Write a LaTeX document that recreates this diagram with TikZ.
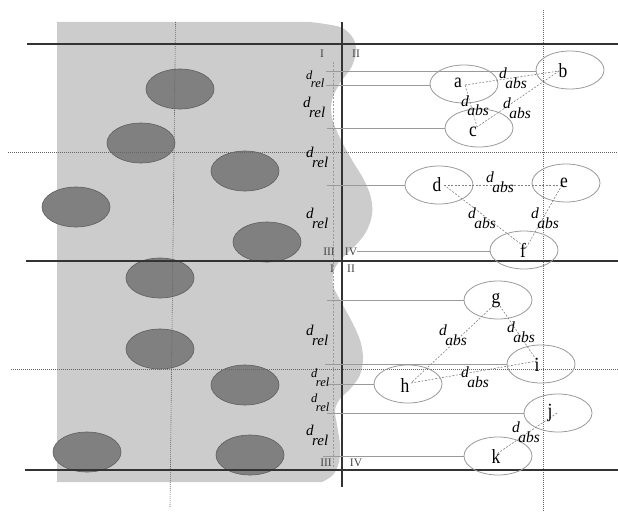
\documentclass[tikz,border=0pt]{standalone}
\usepackage{fontspec}
\setmainfont{Liberation Serif}
\usetikzlibrary{shapes.geometric}
\definecolor{regiongray}{HTML}{CCCCCC}
\definecolor{blobgray}{HTML}{808080}
\definecolor{blobedge}{HTML}{5E5E5E}
\definecolor{linegray}{HTML}{9A9A9A}
\definecolor{axisblack}{HTML}{333333}
\definecolor{dotgray}{HTML}{666666}
\definecolor{numgray}{HTML}{444444}
\newcommand\sublab[3]{#1\kern-1.5pt\raisebox{-#3}{#2}}
\newcommand\tallletter[1]{\scalebox{1}[1.15]{#1}}
\begin{document}
\begin{tikzpicture}[x=1pt,y=-1pt,
  blob/.style={ellipse, fill=blobgray, draw=blobedge, line width=0.6pt, minimum width=68pt, minimum height=40pt, inner sep=0},
  obj/.style={ellipse, draw=linegray, line width=0.8pt, minimum width=68pt, minimum height=38pt, inner sep=0},
  letter/.style={font=\fontsize{17.5}{17.5}\selectfont, inner sep=0},
  guide/.style={draw=linegray, line width=0.8pt},
  axisline/.style={draw=axisblack, line width=1.4pt},
  dotline/.style={draw=dotgray, line width=0.6pt, dash pattern=on 0.8pt off 1.2pt},
  dashconn/.style={draw=gray, line width=0.6pt, dash pattern=on 2pt off 1.5pt},
  lightdash/.style={draw=linegray, line width=0.6pt, dash pattern=on 2pt off 1.5pt},
  dabs/.style={font=\fontsize{15.5}{15.5}\selectfont\itshape, inner sep=0, anchor=base west},
  drelbig/.style={font=\fontsize{15}{15}\selectfont\itshape, inner sep=0, anchor=base west},
  drelsmall/.style={font=\fontsize{12.5}{12.5}\selectfont\itshape, inner sep=0, anchor=base west},
  roman/.style={font=\fontsize{11.5}{11.5}\selectfont, text=numgray, inner sep=0}
]
\useasboundingbox (0,0) rectangle (618,511);
% light gray region
\fill[regiongray] (57,482) -- (57,22) -- plot[smooth, tension=0.55] coordinates {(310,22) (340,27) (353,38) (356,52) (351,68) (340,83) (332,100) (332,118) (340,138) (352,160) (364,180) (371,198) (372,215) (366,232) (355,246) (343,257) (334,270) (333,285) (340,300) (351,320) (360,340) (363,358) (360,375) (351,388) (340,399) (335,410) (337,425) (340,445) (339,462) (333,475) (322,482)} -- cycle;
% dark blobs
\node[blob] (s1) at (180,89) {};
\node[blob] (s2) at (141,143) {};
\node[blob] (s3) at (245,171) {};
\node[blob] (s4) at (76,207) {};
\node[blob] (s5) at (267,242) {};
\node[blob] (s6) at (160,278) {};
\node[blob] (s7) at (160,349) {};
\node[blob] (s8) at (245,385) {};
\node[blob] (s9) at (87,452) {};
\node[blob] (s10) at (250,455) {};
% dotted grid lines
\coordinate (dv1t) at (175.5,22); \coordinate (dv1b) at (170,508);
\coordinate (dv2t) at (543,10); \coordinate (dv2b) at (543,511);
\coordinate (dh1l) at (8,152); \coordinate (dh1r) at (618,152);
\coordinate (dh2l) at (11,369); \coordinate (dh2r) at (618,369);
\draw[dotline] (dv1t) -- (dv1b);
\draw[dotline] (dv2t) -- (dv2b);
\draw[dotline] (dh1l) -- (dh1r);
\draw[dotline] (dh2l) -- (dh2r);
% thick axes
\coordinate (h1l) at (27,44); \coordinate (h1r) at (618,44);
\coordinate (h2l) at (26,261); \coordinate (h2r) at (618,261);
\coordinate (h3l) at (25,470); \coordinate (h3r) at (618,470);
\coordinate (vt) at (342,22); \coordinate (vb) at (342,487);
\draw[axisline] (h1l) -- (h1r);
\draw[axisline] (h2l) -- (h2r);
\draw[axisline] (h3l) -- (h3r);
\draw[axisline] (vt) -- (vb);
% thin dashed vertical
\coordinate (tdt) at (333,62); \coordinate (tdb) at (333,467);
\draw[lightdash] (tdt) -- (tdb);
% object ellipses
\node[obj] (ea) at (464,84) {};
\node[obj] (eb) at (570,70) {};
\node[obj] (ec) at (479,128) {};
\node[obj] (ed) at (439,185) {};
\node[obj] (ee) at (566,183) {};
\node[obj] (ef) at (524,250) {};
\node[obj] (eg) at (498,300) {};
\node[obj] (ei) at (541,364) {};
\node[obj] (eh) at (408,384) {};
\node[obj] (ej) at (558,413) {};
\node[obj] (ek) at (498,456) {};
% guide lines
\coordinate (gb) at (326,71);
\coordinate (ga) at (326,85);
\coordinate (gc) at (327,128);
\coordinate (gd) at (327,185);
\coordinate (gf) at (357,251);
\coordinate (gg) at (327,300);
\coordinate (gi) at (325,364);
\coordinate (gh) at (327,384);
\coordinate (gj) at (327,413);
\coordinate (gk) at (323,456);
\draw[guide] (gb) -- (gb -| eb.west);
\draw[guide] (ga) -- (ga -| ea.west);
\draw[guide] (gc) -- (gc -| ec.west);
\draw[guide] (gd) -- (gd -| ed.west);
\draw[guide] (gf) -- (gf -| ef.west);
\draw[guide] (gg) -- (gg -| eg.west);
\draw[guide] (gi) -- (gi -| ei.west);
\draw[guide] (gh) -- (gh -| eh.west);
\draw[guide] (gj) -- (gj -| ej.west);
\draw[guide] (gk) -- (gk -| ek.west);
% dashed distance connectors
\coordinate (pa) at (465,85);
\coordinate (pb) at (559,71);
\coordinate (pc) at (477,127);
\coordinate (pd) at (444,185);
\coordinate (pe) at (562,185);
\coordinate (pf) at (526,248);
\coordinate (pg1) at (493,306);
\coordinate (pg2) at (500,306);
\coordinate (ph) at (411,383);
\coordinate (pi) at (537,361);
\coordinate (pj) at (557,413);
\coordinate (pk) at (498,453);
\draw[dashconn] (pa) -- (pb);
\draw[dashconn] (pa) -- (pc);
\draw[dashconn] (pb) -- (pc);
\draw[dashconn] (pd) -- (pe);
\draw[dashconn] (pd) -- (pf);
\draw[dashconn] (pe) -- (pf);
\draw[dashconn] (pg1) -- (ph);
\draw[dashconn] (pg2) -- (pi);
\draw[dashconn] (ph) -- (pi);
\draw[dashconn] (pj) -- (pk);
% letters
\node[letter] (la) at (458,83) {\tallletter{a}};
\node[letter] (lb) at (563,71) {\tallletter{b}};
\node[letter] (lc) at (473,132) {\tallletter{c}};
\node[letter] (ld) at (437,185) {\tallletter{d}};
\node[letter] (le) at (564,183) {\tallletter{e}};
\node[letter] (lf) at (523,250) {\tallletter{f}};
\node[letter] (lg) at (496,301) {\tallletter{g}};
\node[letter] (li) at (537,365) {\tallletter{i}};
\node[letter] (lh) at (405,386) {\tallletter{h}};
\node[letter] (lj) at (550,413) {\tallletter{j}};
\node[letter] (lk) at (496,457) {\tallletter{k}};
% d_abs labels
\node[dabs] (dab) at (499,78) {\sublab{d}{abs}{10pt}};
\node[dabs] (dac) at (461,106) {\sublab{d}{abs}{9.5pt}};
\node[dabs] (dbc) at (503,108) {\sublab{d}{abs}{10pt}};
\node[dabs] (dde) at (486,182) {\sublab{d}{abs}{10pt}};
\node[dabs] (ddf) at (468,218) {\sublab{d}{abs}{10pt}};
\node[dabs] (def) at (531,218) {\sublab{d}{abs}{10pt}};
\node[dabs] (dgh) at (439,335) {\sublab{d}{abs}{10pt}};
\node[dabs] (dgi) at (507,332) {\sublab{d}{abs}{10pt}};
\node[dabs] (dhi) at (461,377) {\sublab{d}{abs}{10pt}};
\node[dabs] (djk) at (512,432) {\sublab{d}{abs}{10pt}};
% d_rel labels
\node[drelsmall] (r1) at (306,79) {\sublab{d}{rel}{9pt}};
\node[drelbig] (r2) at (303,107) {\sublab{d}{rel}{10.5pt}};
\node[drelbig] (r3) at (306,157) {\sublab{d}{rel}{10.5pt}};
\node[drelbig] (r4) at (306,218) {\sublab{d}{rel}{10.5pt}};
\node[drelbig] (r5) at (306,335) {\sublab{d}{rel}{10.5pt}};
\node[drelsmall] (r6) at (311,377) {\sublab{d}{rel}{9pt}};
\node[drelsmall] (r7) at (311,402) {\sublab{d}{rel}{9pt}};
\node[drelbig] (r8) at (306,435) {\sublab{d}{rel}{10.5pt}};
% quadrant numerals
\node[roman] (q1a) at (322,54) {I};
\node[roman] (q2a) at (356,54) {II};
\node[roman] (q3a) at (329,252) {III};
\node[roman] (q4a) at (351,252) {IV};
\node[roman] (q1b) at (332,269) {I};
\node[roman] (q2b) at (351,269) {II};
\node[roman] (q3b) at (326,463) {III};
\node[roman] (q4b) at (356,463) {IV};
\end{tikzpicture}
\end{document}
